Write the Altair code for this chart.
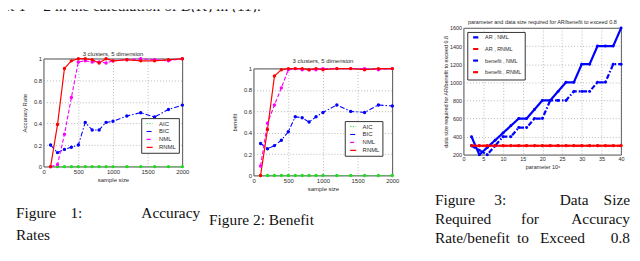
import altair as alt
import pandas as pd

SANS = "Liberation Sans"
SERIF = "Liberation Serif"
TXT = "#2a2a2a"
GRID = "#9a9a9a"

# ---------------- Figure 1 / Figure 2 data ----------------
sample_sizes = [100, 200, 300, 400, 500, 600, 700, 800, 900, 1000, 1200, 1400, 1600, 1800, 2000]
methods = ["AIC", "BIC", "NML", "RNML"]

acc_aic = [0, 0, 0, 0, 0, 0, 0, 0, 0, 0, 0, 0, 0, 0, 0]
acc_bic = [0.20, 0.13, 0.16, 0.18, 0.20, 0.41, 0.34, 0.34, 0.41, 0.42, 0.47, 0.50, 0.46, 0.53, 0.57]
acc_nml = [0.00, 0.02, 0.30, 0.64, 0.97, 0.98, 0.97, 0.97, 0.96, 0.98, 0.99, 1.00, 0.99, 0.98, 1.00]
acc_rnml = [0.00, 0.39, 0.91, 0.98, 1.00, 1.00, 0.99, 0.96, 1.00, 0.98, 0.99, 0.98, 0.98, 0.99, 1.00]

ben_aic = [0, 0, 0, 0, 0, 0, 0, 0, 0, 0, 0, 0, 0, 0, 0]
ben_bic = [0.30, 0.25, 0.28, 0.33, 0.41, 0.55, 0.54, 0.50, 0.55, 0.59, 0.66, 0.60, 0.59, 0.66, 0.65]
ben_nml = [0.09, 0.49, 0.66, 0.82, 0.99, 1.00, 0.99, 0.99, 0.99, 1.00, 1.00, 1.00, 1.00, 0.99, 1.00]
ben_rnml = [0.00, 0.43, 0.93, 0.99, 1.00, 1.00, 1.00, 0.99, 1.00, 0.99, 1.00, 1.00, 0.99, 1.00, 1.00]

# ---------------- Figure 3 data ----------------
params = [2, 4, 6, 8, 10, 12, 14, 16, 18, 20, 22, 24, 26, 28, 30, 32, 34, 36, 38, 40]
fig3_series = ["AR , NML", "AR , RNML", "benefit , NML", "benefit , RNML"]
ar_nml = [400, 200, 280, 360, 440, 520, 600, 600, 700, 800, 800, 900, 1000, 1000, 1200, 1200, 1400, 1400, 1400, 1600]
ar_rnml = [300, 300, 300, 300, 300, 300, 300, 300, 300, 300, 300, 300, 300, 300, 300, 300, 300, 300, 300, 300]
bf_nml = [300, 250, 200, 300, 400, 400, 500, 500, 600, 600, 800, 800, 800, 900, 900, 900, 1000, 1000, 1200, 1200]
bf_rnml = [300, 300, 300, 300, 300, 300, 300, 300, 300, 300, 300, 300, 300, 300, 300, 300, 300, 300, 300, 300]

# ---------------- texts ----------------
top_line = "set T = 2 in the calculation of B(K) in (11)."
cluster_title = "3 clusters, 5 dimension"
fig3_title = "parameter and data size required for AR/benefit to exceed 0.8"
fig3_ylabel = "data size required for AR/benefit to exceed 0.8"
fig3_xlabel = "parameter 10\u02e3"
cap1_words = ["Figure", "1:", "Accuracy"]
cap1_line2 = "Rates"
cap2 = "Figure 2: Benefit"
cap3_l1 = ["Figure", "3:", "Data", "Size"]
cap3_l2 = ["Required", "for", "Accuracy"]
cap3_l3 = ["Rate/benefit", "to", "Exceed", "0.8"]

one = pd.DataFrame({"k": [0]})
NOFRAME = alt.ViewBackground(stroke="transparent", strokeWidth=0)


def long_df(xs, names, values):
    rows = []
    for name, vals in zip(names, values):
        for x, v in zip(xs, vals):
            rows.append({"x": x, "series": name, "y": v})
    return pd.DataFrame(rows)


def txt(s, x, y, size, font=SANS, align="left", baseline="alphabetic", color=TXT, clip=False):
    return alt.Chart(one).mark_text(
        text=s, font=font, fontSize=size, align=align, baseline=baseline, color=color, clip=clip
    ).encode(x=alt.value(x), y=alt.value(y))


def anchor(x1, x2, y1, y2):
    return alt.Chart(one).mark_rect(opacity=0).encode(
        x=alt.value(x1), x2=alt.value(x2), y=alt.value(y1), y2=alt.value(y2)
    )


def spacer(h, w=1):
    return anchor(0, w, 0, h).properties(width=w, height=h, view=NOFRAME)


def panel(df, names, colors, dashes, widths, psizes, w, h, xdom, xticks, xfmt, ydom, yticks, yfmt,
          xtitle, ytitle, ytitle_x, xtitle_y, fs, leg_x, leg_y, leg_size, leg_fs, leg_pad, extra, box):
    leg = alt.Legend(
        orient="none", legendX=leg_x, legendY=leg_y, title=None,
        symbolType="M-1.75,0H1.75", symbolSize=leg_size, symbolStrokeWidth=1.3,
        symbolOffset=3, labelOffset=6.5, labelFont=SANS, labelFontSize=leg_fs, labelColor=TXT,
        padding=2.5, rowPadding=leg_pad, strokeColor="#333", fillColor="white", cornerRadius=0,
        labelLimit=300,
    )
    xa = alt.Axis(values=xticks, format=xfmt, title=xtitle, grid=True, gridDash=[1, 2], gridColor=GRID,
                  gridWidth=0.7, domain=False, ticks=False, labelFont=SANS, labelFontSize=fs,
                  labelColor=TXT, labelPadding=2, labelOverlap=False, labelFlush=False,
                  titleFont=SANS, titleFontSize=fs, titleFontWeight="normal", titleColor=TXT,
                  titleX=w / 2, titleY=xtitle_y, titleBaseline="middle", titleAlign="center")
    ya = alt.Axis(values=yticks, format=yfmt, title=ytitle, grid=True, gridDash=[1, 2], gridColor=GRID,
                  gridWidth=0.7, domain=False, ticks=False, labelFont=SANS, labelFontSize=fs,
                  labelColor=TXT, labelPadding=2, labelOverlap=False, labelFlush=False,
                  titleFont=SANS, titleFontSize=fs, titleFontWeight="normal", titleColor=TXT,
                  titleX=ytitle_x, titleY=h / 2, titleAngle=270, titleBaseline="middle", titleAlign="center")
    X = alt.X("x:Q", scale=alt.Scale(domain=xdom, nice=False, zero=False), axis=xa)
    Y = alt.Y("y:Q", scale=alt.Scale(domain=ydom, nice=False, zero=False), axis=ya)
    cscale = alt.Scale(domain=names, range=colors)
    lines = alt.Chart(df).mark_line(strokeJoin="round").encode(
        x=X, y=Y,
        color=alt.Color("series:N", scale=cscale, legend=leg),
        strokeDash=alt.StrokeDash("series:N", scale=alt.Scale(domain=names, range=dashes), legend=leg),
        strokeWidth=alt.StrokeWidth("series:N", scale=alt.Scale(domain=names, range=widths), legend=None),
    )
    pts = alt.Chart(df).mark_circle(opacity=1).encode(
        x=X, y=Y,
        color=alt.Color("series:N", scale=cscale, legend=leg),
        size=alt.Size("series:N", scale=alt.Scale(domain=names, range=psizes), legend=None),
    )
    return alt.layer(anchor(*box), lines, pts, *extra).properties(width=w, height=h)


DOT = [1.2, 1.6]
DASHDOT = [5, 2, 1.5, 2]
DASH = [4, 2]
SOLID = [1, 0]
M_COLORS = ["#1fdc1f", "#0000ff", "#ff00ff", "#ff0000"]
CAP = 15.5
CAPC = "#111"

# -------- panel 1 (plot origin at image 43,57) --------
df1 = long_df(sample_sizes, methods, [acc_aic, acc_bic, acc_nml, acc_rnml])
p1 = panel(
    df1, methods, M_COLORS, [DOT, DASHDOT, DASH, SOLID], [1.0, 1.2, 1.6, 1.9], [12, 12, 20, 14],
    140, 109, [0, 2000], [0, 500, 1000, 1500, 2000], "d", [0, 1], [0, 0.2, 0.4, 0.6, 0.8, 1], ".1~f",
    "sample size", "Accuracy Rate", -19, 13, 6, 98.5, 60, 64, 6, 2,
    [
        txt(cluster_title, 70, -4.3, 6, align="center", baseline="middle"),
        txt(cap1_words[0], -28, 161, CAP, font=SERIF, color=CAPC),
        txt(cap1_words[1], 27, 161, CAP, font=SERIF, color=CAPC),
        txt(cap1_words[2], 158, 161, CAP, font=SERIF, align="right", color=CAPC),
        txt(cap1_line2, -28, 183, CAP, font=SERIF, color=CAPC),
    ],
    (-34, 162, -12, 195),
)

# -------- panel 2 (plot origin at image 253,67) --------
df2 = long_df(sample_sizes, methods, [ben_aic, ben_bic, ben_nml, ben_rnml])
p2 = panel(
    df2, methods, M_COLORS, [DOT, DASHDOT, DASH, SOLID], [1.0, 1.2, 1.6, 1.9], [12, 12, 20, 14],
    140, 108, [0, 2000], [0, 500, 1000, 1500, 2000], "d", [0, 1], [0, 0.2, 0.4, 0.6, 0.8, 1], ".1~f",
    "sample size", "benefit", -19, 13, 6, 92, 53, 64, 6, 2,
    [
        txt(cluster_title, 70, -7.7, 6, align="center", baseline="middle"),
        txt(cap2, -45, 158, CAP, font=SERIF, color=CAPC),
    ],
    (-48, 179, -12, 185),
)

# -------- panel 3 (plot origin at image 463,26) --------
df3 = long_df(params, fig3_series, [ar_nml, ar_rnml, bf_nml, bf_rnml])
p3 = panel(
    df3, fig3_series, ["#0000ff", "#ff0000", "#0000ff", "#ff0000"], [SOLID, SOLID, DASHDOT, DASHDOT],
    [2.2, 2.2, 1.5, 1.5], [9, 9, 9, 9],
    159, 128, [0, 40], [0, 5, 10, 15, 20, 25, 30, 35, 40], "d",
    [200, 1600], [200, 400, 600, 800, 1000, 1200, 1400, 1600], "d",
    fig3_xlabel, fig3_ylabel, -18, 12, 5.5, 3.7, 4, 49, 5.5, 1.7,
    [
        txt(fig3_title, 79.5, -6.3, 5.5, align="center", baseline="middle"),
        txt(cap3_l1[0], -29, 179, CAP, font=SERIF, color=CAPC),
        txt(cap3_l1[1], 31, 179, CAP, font=SERIF, color=CAPC),
        txt(cap3_l1[2], 97, 179, CAP, font=SERIF, color=CAPC),
        txt(cap3_l1[3], 168, 179, CAP, font=SERIF, align="right", color=CAPC),
        txt(cap3_l2[0], -29, 198, CAP, font=SERIF, color=CAPC),
        txt(cap3_l2[1], 58, 198, CAP, font=SERIF, color=CAPC),
        txt(cap3_l2[2], 168, 198, CAP, font=SERIF, align="right", color=CAPC),
        txt(cap3_l3[0], -29, 217, CAP, font=SERIF, color=CAPC),
        txt(cap3_l3[1], 54, 217, CAP, font=SERIF, color=CAPC),
        txt(cap3_l3[2], 77, 217, CAP, font=SERIF, color=CAPC),
        txt(cap3_l3[3], 168, 217, CAP, font=SERIF, align="right", color=CAPC),
    ],
    (-31, 169, -12, 226),
)

IND = dict(x="independent", y="independent", color="independent",
           strokeDash="independent", strokeWidth="independent", size="independent")

col0 = spacer(1)
col1 = alt.vconcat(spacer(34), p1, spacing=0).resolve_scale(**IND)
col2 = alt.vconcat(spacer(44), p2, spacing=0).resolve_scale(**IND)
col3 = alt.vconcat(spacer(3), p3, spacing=0).resolve_scale(**IND)

row = alt.hconcat(col0, col1, col2, col3, spacing=0).resolve_scale(**IND)

top = txt(top_line, -11, 1.5, CAP, font=SERIF, color=CAPC, clip=True).properties(
    width=620, height=3, view=NOFRAME
)

chart = alt.vconcat(top, row, spacing=0).properties(padding=0).configure_view(
    stroke="#222", strokeWidth=0.8
)

chart.save("out.html", embed_options={"renderer": "svg", "actions": False})
